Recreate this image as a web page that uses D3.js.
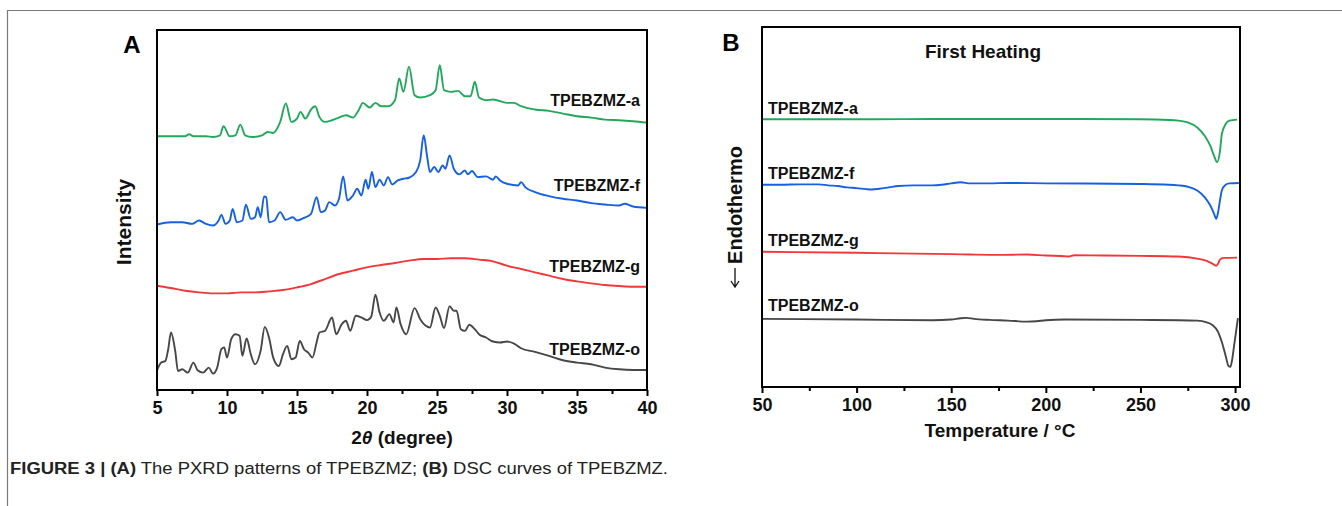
<!DOCTYPE html>
<html>
<head>
<meta charset="utf-8">
<script src="https://cdn.jsdelivr.net/npm/d3@7"></script>
<style>
  body { margin: 0; background: #fff; }
  svg { display: block; font-family: "Liberation Sans", Arial, sans-serif; }
</style>
</head>
<body>
<svg id="fig" width="1342" height="506"></svg>
<script>
// PXRD patterns, [2theta, intensity a.u.] (offset stacked)
const xrdA = [[5,759],[7,759],[7.3,765],[7.6,759],[8.5,759],[9,757],[9.5,762],[9.75,789],[10.2,759],[10.6,762],[10.95,794],[11.3,762],[11.8,757],[12.5,762],[12.9,772],[13.3,769],[13.8,802],[14.2,857],[14.6,802],[15,812],[15.25,832],[15.6,812],[16,839],[16.3,849],[16.6,817],[17,802],[17.5,807],[18,815],[18.5,822],[19,815],[19.4,837],[19.7,859],[20.2,845],[20.6,859],[21,849],[21.5,849],[22,867],[22.3,932],[22.6,892],[23,967],[23.4,882],[23.8,875],[24.5,882],[24.9,897],[25.2,972],[25.5,897],[26,892],[26.5,895],[27,879],[27.4,879],[27.7,922],[28,875],[28.5,867],[29,869],[30,859],[30.5,859],[31,849],[32,839],[33,835],[34,827],[35,819],[36,815],[37,809],[38,807],[39,804],[40,800]];
const xrdF = [[5,495],[6,502],[6.8,502],[7.5,497],[8,507],[8.5,497],[9,492],[9.4,507],[9.6,524],[9.9,497],[10.2,507],[10.4,542],[10.7,502],[11.1,507],[11.35,554],[11.7,512],[12,517],[12.2,547],[12.4,517],[12.65,579],[12.8,577],[13,502],[13.4,507],[13.8,532],[14.2,509],[14.7,517],[15,507],[15.5,515],[16,527],[16.4,577],[16.7,532],[17,537],[17.3,562],[17.7,552],[18,572],[18.3,639],[18.6,567],[19,582],[19.3,602],[19.6,582],[19.9,629],[20.1,602],[20.35,652],[20.6,607],[20.9,629],[21.2,612],[21.5,637],[21.8,615],[22.2,627],[22.6,632],[23,635],[23.5,652],[23.8,687],[24.05,762],[24.3,697],[24.5,652],[24.8,667],[25.1,652],[25.4,672],[25.6,662],[25.9,702],[26.2,662],[26.6,645],[27,657],[27.2,645],[27.5,655],[27.9,637],[28.5,639],[29,629],[29.2,639],[29.5,627],[30,617],[30.8,612],[31,622],[31.3,607],[32,592],[33,580],[34,572],[35,567],[36,559],[37,555],[38,552],[38.4,557],[39,549],[40,545]];
const xrdG = [[5,312],[6,305],[7,297],[8,292],[9,289],[10,289],[11,292],[12,292],[13,295],[14,299],[15,307],[16,317],[17,332],[18,347],[19,357],[20,367],[21,374],[22,380],[23,387],[24,392],[25,392],[26,394],[27,394],[28,390],[29,385],[30,372],[31,362],[32,352],[33,342],[34,332],[35,325],[36,319],[37,314],[38,311],[39,309],[40,309]];
const xrdO = [[5,59],[5.3,82],[5.6,87],[5.8,122],[6,172],[6.3,117],[6.5,57],[6.8,62],[7.2,52],[7.6,82],[7.9,59],[8.3,52],[8.7,67],[9,49],[9.3,67],[9.6,122],[9.8,127],[10,97],[10.3,152],[10.6,167],[10.9,162],[11.1,102],[11.4,154],[11.7,107],[12,77],[12.4,117],[12.7,189],[13,157],[13.3,97],[13.7,72],[14,107],[14.3,132],[14.6,92],[14.9,97],[15.2,147],[15.5,122],[15.8,112],[16.1,97],[16.4,142],[16.6,172],[17,177],[17.5,217],[17.8,167],[18.2,197],[18.5,207],[18.8,177],[19.2,222],[19.6,217],[20,209],[20.3,219],[20.6,285],[20.9,232],[21.2,207],[21.6,227],[21.9,202],[22.1,247],[22.4,197],[22.8,167],[23.4,245],[23.8,212],[24.2,192],[24.5,187],[24.9,247],[25.2,222],[25.5,185],[25.9,251],[26.2,237],[26.4,237],[26.7,182],[27,177],[27.3,195],[27.7,182],[28,167],[28.5,157],[29,145],[29.5,142],[30,145],[30.5,139],[31,125],[32,114],[33,102],[34,89],[35,82],[36,77],[37,67],[38,62],[39,60],[40,60]];

// DSC first heating, [T degC, heat flow a.u.] (offset stacked)
const dscA = [[50,786],[100,786],[150,787],[200,787],[250,786],[265,784],[270,782],[275,777],[280,762],[284,737],[287,707],[289,677],[290.5,660],[292,692],[293,742],[295,772],[297,782],[301,785]];
const dscF = [[50,594],[60,594],[70,595],[80,595],[85,592],[90,590],[95,586],[100,584],[105,581],[108,580],[112,582],[117,586],[122,590],[130,592],[140,592],[145,594],[150,598],[155,601],[160,598],[170,598],[180,599],[200,598],[250,596],[265,594],[270,592],[275,588],[280,577],[284,557],[287,532],[289,507],[290,494],[291,512],[292,547],[293,577],[295,594],[297,598],[302,599]];
const dscG = [[50,397],[100,394],[150,390],[160,389],[175,388],[190,389],[200,386],[210,384],[212,383],[215,387],[230,386],[250,385],[270,383],[280,377],[285,370],[288,362],[290,356],[291,362],[292,374],[294,379],[301,380]];
const dscO = [[50,200],[100,198],[140,196],[150,198],[155,202],[158,203],[162,200],[170,197],[180,195],[190,192],[195,193],[200,196],[210,198],[250,197],[280,195],[285,190],[288,182],[291,162],[293,132],[295,92],[296.5,62],[297.5,59],[298.5,82],[299.5,122],[300.5,162],[301.5,202]];

const names = ["TPEBZMZ-a", "TPEBZMZ-f", "TPEBZMZ-g", "TPEBZMZ-o"];
const colors = ["#22a85a", "#1660e6", "#f2373a", "#474747"];
const xrdTicks = [5, 10, 15, 20, 25, 30, 35, 40];
const dscTicks = [50, 100, 150, 200, 250, 300];

const svg = d3.select("#fig");

// page rules
svg.append("line").attr("x1", 7).attr("x2", 1342).attr("y1", 10.5).attr("y2", 10.5)
  .attr("stroke", "#7a7a7a").attr("stroke-width", 1.2);
svg.append("line").attr("x1", 7.5).attr("x2", 7.5).attr("y1", 10).attr("y2", 506)
  .attr("stroke", "#7a7a7a").attr("stroke-width", 1.2);

function panel(opt) {
  const x = d3.scaleLinear().domain(opt.xDomain).range([opt.left, opt.right]);
  const y = d3.scaleLinear().domain(opt.yDomain).range([opt.bottom, opt.top]);
  const g = svg.append("g");

  // minor ticks
  const minor = d3.range(opt.xDomain[0] + opt.minorStep, opt.xDomain[1], opt.minorStep * 2);
  g.append("g").attr("transform", `translate(0,${opt.bottom})`)
    .call(d3.axisBottom(x).tickValues(minor).tickSize(4).tickFormat(""))
    .call(s => s.select(".domain").remove())
    .call(s => s.selectAll("line").attr("stroke-width", 2));
  g.append("g").attr("transform", `translate(0,${opt.bottom})`)
    .call(d3.axisBottom(x).tickValues(opt.ticks).tickSize(6).tickPadding(5))
    .call(s => s.select(".domain").remove())
    .call(s => s.selectAll("line").attr("stroke-width", 2))
    .call(s => s.selectAll("text").attr("font-size", 18).attr("font-weight", "bold")
      .attr("fill", "#111").attr("font-family", "Liberation Sans, Arial, sans-serif"));

  const line = d3.line().x(d => x(d[0])).y(d => y(d[1])).curve(d3.curveMonotoneX);
  opt.series.forEach((s, i) => {
    g.append("path").datum(s).attr("d", line).attr("fill", "none")
      .attr("stroke", colors[i]).attr("stroke-width", 1.9).attr("stroke-linejoin", "round");
  });

  g.append("rect").attr("x", opt.left).attr("y", opt.top)
    .attr("width", opt.right - opt.left).attr("height", opt.bottom - opt.top)
    .attr("fill", "none").attr("stroke", "#000").attr("stroke-width", 2);
  return { x, y, g };
}

// Panel A: PXRD
const A = panel({
  left: 157, right: 647, top: 30, bottom: 390,
  xDomain: [5, 40], yDomain: [0, 1077], ticks: xrdTicks, minorStep: 2.5,
  series: [xrdA, xrdF, xrdG, xrdO]
});
[100, 185, 266, 349].forEach((yy, i) => {
  A.g.append("text").attr("x", 640).attr("y", yy).attr("dy", "0.35em")
    .attr("text-anchor", "end").attr("font-size", 16).attr("font-weight", "bold")
    .attr("fill", "#111").text(names[i]);
});
svg.append("text").attr("x", 132).attr("y", 45).attr("dy", "0.35em").attr("text-anchor", "middle")
  .attr("font-size", 24).attr("font-weight", "bold").text("A");
svg.append("text").attr("transform", "translate(124,222) rotate(-90)").attr("dy", "0.35em")
  .attr("text-anchor", "middle").attr("font-size", 21).attr("font-weight", "bold")
  .attr("fill", "#111").text("Intensity");
const tA = svg.append("text").attr("x", 402).attr("y", 437).attr("dy", "0.35em")
  .attr("text-anchor", "middle").attr("font-size", 19).attr("font-weight", "bold").attr("fill", "#111");
tA.append("tspan").text("2");
tA.append("tspan").attr("font-style", "italic").text("θ");
tA.append("tspan").text(" (degree)");

// Panel B: DSC
const B = panel({
  left: 762, right: 1240, top: 27, bottom: 387,
  xDomain: [50, 302.6], yDomain: [0, 1057], ticks: dscTicks, minorStep: 25,
  series: [dscA, dscF, dscG, dscO]
});
[108, 173, 240, 305].forEach((yy, i) => {
  B.g.append("text").attr("x", 768).attr("y", yy).attr("dy", "0.35em")
    .attr("font-size", 16).attr("font-weight", "bold").attr("fill", "#111").text(names[i]);
});
svg.append("text").attr("x", 983).attr("y", 51).attr("dy", "0.35em").attr("text-anchor", "middle")
  .attr("font-size", 19).attr("font-weight", "bold").attr("fill", "#111").text("First Heating");
svg.append("text").attr("x", 731).attr("y", 43).attr("dy", "0.35em").attr("text-anchor", "middle")
  .attr("font-size", 24).attr("font-weight", "bold").text("B");
// y title with a downward arrow below it
svg.append("text").attr("transform", "translate(735,205) rotate(-90)").attr("dy", "0.35em")
  .attr("text-anchor", "middle").attr("font-size", 20).attr("font-weight", "bold")
  .attr("fill", "#111").text("Endothermo");
svg.append("path").attr("d", "M735,268 V287 M731,281 L735,287 L739,281")
  .attr("fill", "none").attr("stroke", "#111").attr("stroke-width", 1.3);
svg.append("text").attr("x", 1000).attr("y", 430).attr("dy", "0.35em")
  .attr("text-anchor", "middle").attr("font-size", 19).attr("font-weight", "bold")
  .attr("fill", "#111").text("Temperature / °C");

// caption
const cap = svg.append("text").attr("x", 10).attr("y", 474).attr("font-size", 16)
  .attr("fill", "#222")
  .attr("textLength", 658).attr("lengthAdjust", "spacingAndGlyphs");
cap.append("tspan").attr("font-weight", "bold").text("FIGURE 3 | (A)");
cap.append("tspan").text(" The PXRD patterns of TPEBZMZ; ");
cap.append("tspan").attr("font-weight", "bold").text("(B)");
cap.append("tspan").text(" DSC curves of TPEBZMZ.");
</script>
</body>
</html>
